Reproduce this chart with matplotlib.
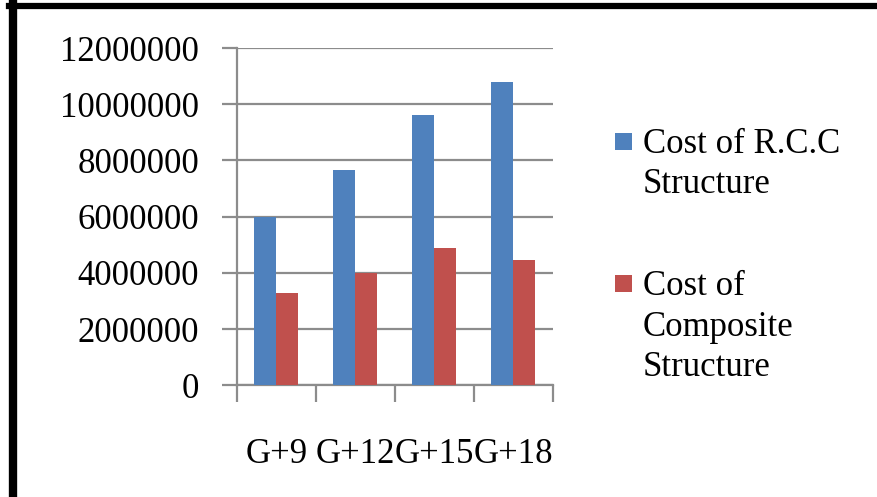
import matplotlib.pyplot as plt
import matplotlib.ticker as ticker
from matplotlib.lines import Line2D
from matplotlib.patches import Rectangle
import numpy as np

# Building heights and construction costs
storeys = ['G+9', 'G+12', 'G+15', 'G+18']
cost_rcc = [6000000, 7650000, 9620000, 10780000]
cost_composite = [3300000, 4000000, 4880000, 4470000]
series_labels = ['Cost of R.C.C\nStructure', 'Cost of\nComposite\nStructure']

blue = '#4F81BD'
red = '#C0504D'
grey = '#8C8C8C'

plt.rcParams['font.family'] = ['Liberation Serif', 'DejaVu Serif']

fig = plt.figure(figsize=(8.78, 4.97), dpi=100)
ax = fig.add_axes([0.2696, 0.2244, 0.3599, 0.679])

x = np.arange(len(storeys))
width = 0.28
ax.bar(x - width / 2, cost_rcc, width, color=blue, label=series_labels[0], zorder=3)
ax.bar(x + width / 2, cost_composite, width, color=red, label=series_labels[1], zorder=3)

ax.set_xlim(-0.5, len(storeys) - 0.5)
ax.set_ylim(0, 12000000)
ax.yaxis.set_major_locator(ticker.MultipleLocator(2000000))
ax.yaxis.set_major_formatter(ticker.FuncFormatter(lambda v, p: '%d' % v))
ax.grid(axis='y', color=grey, linewidth=1.6, zorder=0)

# category ticks sit between the groups
ax.set_xticks(x)
ax.set_xticklabels(storeys, fontsize=25)
ax.xaxis.set_minor_locator(ticker.FixedLocator(np.arange(-0.5, len(storeys), 1)))
ax.tick_params(axis='x', which='major', length=0, pad=38)
ax.tick_params(axis='x', which='minor', length=12, width=1.6, color=grey)
ax.tick_params(axis='y', length=11, width=1.6, color=grey, labelsize=25, pad=16)

for side in ['top', 'right']:
    ax.spines[side].set_visible(False)
for side in ['left', 'bottom']:
    ax.spines[side].set_color(grey)
    ax.spines[side].set_linewidth(1.6)

# legend: square key level with the first line of each label
handles, labels = ax.get_legend_handles_labels()
legend_tops = [0.743, 0.456]
for h, lab, top in zip(handles, labels, legend_tops):
    colour = h.patches[0].get_facecolor()
    fig.add_artist(Rectangle((0.7005, top - 0.044), 0.0194, 0.0342,
                             facecolor=colour, edgecolor='none',
                             transform=fig.transFigure))
    fig.text(0.732, top, lab, fontsize=25, va='top', ha='left', linespacing=1.3)

# black frame along the top and left edges
fig.add_artist(Line2D([0.0105, 1.0], [0.988, 0.988], color='black', linewidth=4.5,
                      transform=fig.transFigure))
fig.add_artist(Line2D([0.0148, 0.0148], [0.0, 0.994], color='black', linewidth=6,
                      transform=fig.transFigure))

fig.savefig('out.png', dpi=100)
